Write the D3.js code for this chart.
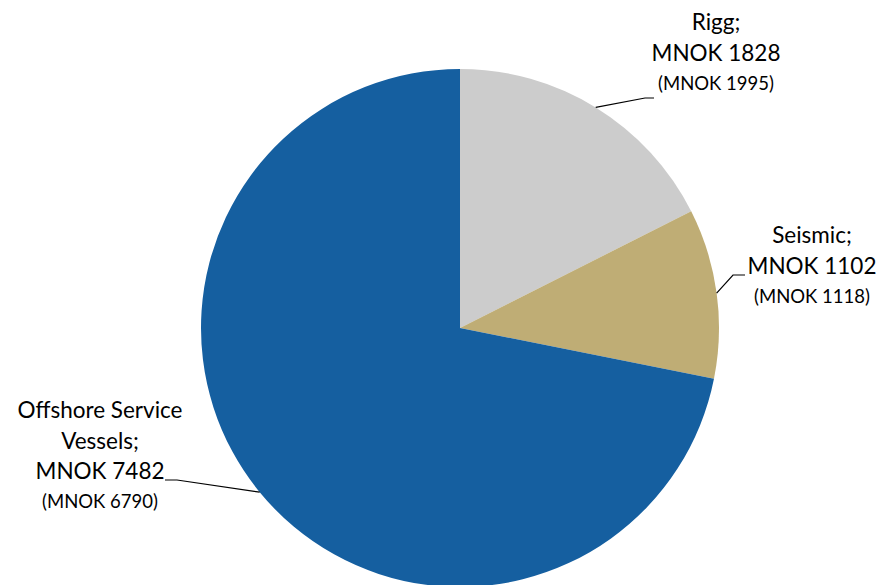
<!DOCTYPE html>
<html>
<head>
  <meta charset="utf-8">
  <script src="https://d3js.org/d3.v7.min.js"></script>
  <style>
    body { margin: 0; background: #fff; }
    text { font-family: Lato, "Open Sans", sans-serif; fill: #000; }
  </style>
</head>
<body>
<div id="pie_chart"></div>
<script>
// segments, current values and last year's values (in brackets)
var segments = ["Rigg", "Seismic", "Offshore Service Vessels"];
var values = [1828, 1102, 7482];
var prevValues = [1995, 1118, 6790];
var colors = ["#cccccc", "#bfad75", "#155fa0"];

var width = 882, height = 585;
var cx = 460, cy = 328, radius = 259;

var svg = d3.select("#pie_chart")
  .append("svg")
    .attr("width", width)
    .attr("height", height);

var g = svg.append("g")
    .attr("transform", "translate(" + cx + "," + cy + ")");

var data = segments.map(function(s, i) {
  return {name: s, value: values[i], prev: prevValues[i], color: colors[i]};
});

var pie = d3.pie()
  .sort(null)
  .value(function(d) { return d.value; });

var arc = d3.arc()
  .innerRadius(0)
  .outerRadius(radius);

var arcs = pie(data);

g.selectAll("path")
  .data(arcs)
  .enter()
  .append("path")
    .attr("d", arc)
    .attr("fill", function(d) { return d.data.color; });

// label placement (text lines and leader line bend point, relative to centre)
var labelCfg = [
  {lines: ["Rigg;", "MNOK 1828"], x: 256, y: -298, knee: [185, -230], end: [194, -230]},
  {lines: ["Seismic;", "MNOK 1102"], x: 352, y: -85, knee: [273, -53], end: [285, -53]},
  {lines: ["Offshore Service", "Vessels;", "MNOK 7482"], x: -360, y: 90, knee: [-283, 152], end: [-295, 152]}
];

arcs.forEach(function(a, i) {
  var c = labelCfg[i];
  var ang = (a.startAngle + a.endAngle) / 2;
  var px = radius * Math.sin(ang), py = -radius * Math.cos(ang);

  g.append("polyline")
    .attr("points", [[px, py], c.knee, c.end].map(function(p) { return p.join(","); }).join(" "))
    .attr("fill", "none")
    .attr("stroke", "#000")
    .attr("stroke-width", 1.2);

  var t = g.append("text")
    .attr("text-anchor", "middle")
    .attr("x", c.x)
    .attr("y", c.y);
  c.lines.forEach(function(l, j) {
    t.append("tspan")
      .attr("x", c.x)
      .attr("dy", j === 0 ? 0 : 30.5)
      .style("font-size", "22.5px")
      .text(l);
  });
  t.append("tspan")
    .attr("x", c.x)
    .attr("dy", 29)
    .style("font-size", "18.5px")
    .text("(MNOK " + a.data.prev + ")");
});
</script>
</body>
</html>
